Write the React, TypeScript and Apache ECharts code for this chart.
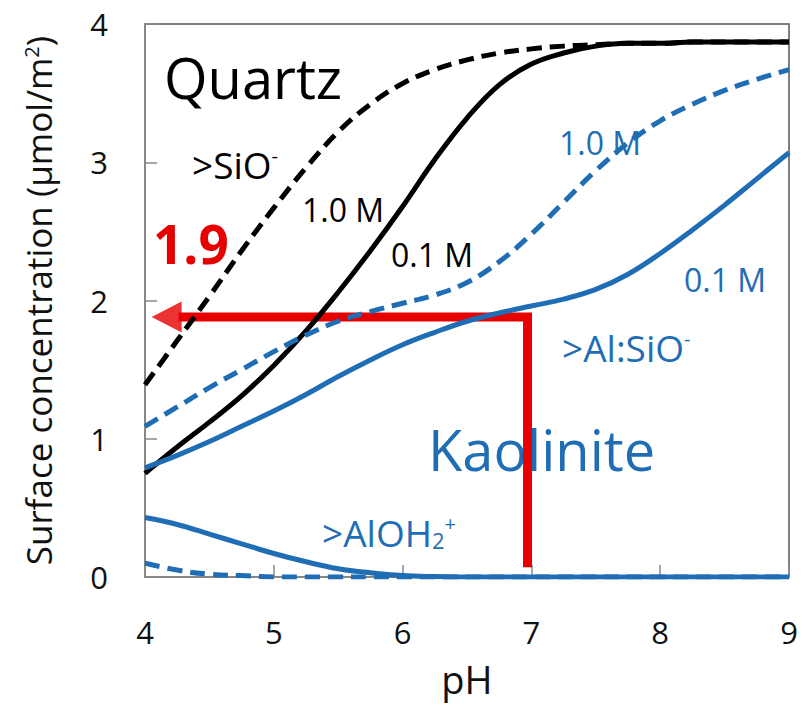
import React, { useEffect, useRef } from "react";
import * as echarts from "echarts";

// pH grid for every curve
const pH = [4, 4.25, 4.5, 4.75, 5, 5.25, 5.5, 5.75, 6, 6.25, 6.5, 6.75, 7, 7.25, 7.5, 7.75, 8, 8.25, 8.5, 8.75, 9];

// Quartz >SiO-
const quartz10M = [1.39, 1.71, 2.03, 2.36, 2.67, 2.96, 3.22, 3.42, 3.57, 3.67, 3.74, 3.79, 3.82, 3.84, 3.85, 3.86, 3.86, 3.87, 3.87, 3.87, 3.87];
const quartz01M = [0.75, 0.94, 1.12, 1.31, 1.53, 1.78, 2.06, 2.36, 2.68, 3.02, 3.32, 3.56, 3.71, 3.79, 3.84, 3.86, 3.86, 3.87, 3.87, 3.87, 3.87];

// Kaolinite >Al:SiO-
const kaolSiO10M = [1.09, 1.23, 1.37, 1.50, 1.63, 1.75, 1.85, 1.92, 1.98, 2.04, 2.13, 2.28, 2.48, 2.71, 2.94, 3.14, 3.30, 3.42, 3.52, 3.60, 3.67];
const kaolSiO01M = [0.79, 0.88, 0.98, 1.09, 1.20, 1.32, 1.45, 1.57, 1.68, 1.77, 1.85, 1.91, 1.96, 2.01, 2.08, 2.19, 2.34, 2.51, 2.69, 2.88, 3.07];

// Kaolinite >AlOH2+
const kaolAlOH01M = [0.43, 0.38, 0.31, 0.24, 0.17, 0.11, 0.06, 0.03, 0.01, 0.003, 0, 0, 0, 0, 0, 0, 0, 0, 0, 0, 0];
const kaolAlOH10M = [0.10, 0.05, 0.02, 0.01, 0, 0, 0, 0, 0, 0, 0, 0, 0, 0, 0, 0, 0, 0, 0, 0, 0];

// red read-off guide: pH 7 -> 1.9
const readPH = [6.97, 6.97, 4.26];
const readConc = [0.07, 1.88, 1.88];
const arrowHead = [4.168, 1.88];

const xTicks = [4, 5, 6, 7, 8, 9];
const yTicks = [0, 1, 2, 3, 4];

const BLUE = "#1f6db5";
const RED = "#e60000";
const FONT = "Open Sans";

const pairs = (ys: number[]) => pH.map((x, i) => [x, ys[i]]);

export default function App() {
  const ref = useRef<HTMLDivElement>(null);
  useEffect(() => {
    if (!ref.current) return;
    const chart = echarts.init(ref.current, undefined, { renderer: "svg" });
    const curve = (name: string, ys: number[], color: string, dashed: boolean) => ({
      name,
      type: "line",
      data: pairs(ys),
      smooth: 0.4,
      showSymbol: false,
      z: 3,
      lineStyle: { color, width: 5, type: dashed ? [15, 8] : "solid", cap: "butt" },
    });
    const label = (text: string, x: number, y: number, size: number, color: string, extra: any = {}) => ({
      type: "text",
      x,
      y,
      z: 1,
      style: { text, fontFamily: FONT, fontSize: size, fill: color, verticalAlign: "middle", ...extra },
    });
    const supRich = (color: string) => ({
      sup: { fontFamily: FONT, fontSize: 20, fill: color, verticalAlign: "top" },
      sub: { fontFamily: FONT, fontSize: 22, fill: color, verticalAlign: "bottom" },
    });
    const option: any = {
      animation: false,
      backgroundColor: "#ffffff",
      textStyle: { fontFamily: FONT },
      grid: {
        left: 145,
        right: 19,
        top: 24,
        bottom: 129,
        show: true,
        borderColor: "#555",
        borderWidth: 1.5,
      },
      xAxis: {
        type: "value",
        min: xTicks[0],
        max: xTicks[xTicks.length - 1],
        interval: 1,
        name: "pH",
        nameLocation: "middle",
        nameGap: 83,
        nameTextStyle: { fontFamily: FONT, fontSize: 38, color: "#111" },
        axisLine: { show: true, lineStyle: { color: "#8a8a8a", width: 1.5 } },
        axisTick: { show: true, inside: true, length: 12, lineStyle: { color: "#8a8a8a", width: 1.5 } },
        axisLabel: { fontFamily: FONT, fontSize: 31, color: "#111", margin: 39 },
        splitLine: { show: false },
      },
      yAxis: {
        type: "value",
        min: yTicks[0],
        max: yTicks[yTicks.length - 1],
        interval: 1,
        name: "Surface concentration (μmol/m{sup|2})",
        nameLocation: "middle",
        nameGap: 89,
        nameTextStyle: {
          fontFamily: FONT,
          fontSize: 35,
          color: "#111",
          rich: { sup: { fontFamily: FONT, fontSize: 20, verticalAlign: "top", color: "#111" } },
        },
        axisLine: { show: true, lineStyle: { color: "#8a8a8a", width: 1.5 } },
        axisTick: { show: true, inside: true, length: 12, lineStyle: { color: "#8a8a8a", width: 1.5 } },
        axisLabel: { fontFamily: FONT, fontSize: 31, color: "#111", margin: 37 },
        splitLine: { show: false },
      },
      series: [
        {
          name: "read-off",
          type: "line",
          data: readPH.map((x, i) => [x, readConc[i]]),
          showSymbol: false,
          z: 2,
          lineStyle: { color: RED, width: 9, cap: "butt", join: "miter" },
        },
        {
          name: "arrow",
          type: "scatter",
          data: [arrowHead],
          symbol: "triangle",
          symbolSize: [31, 30],
          symbolRotate: 90,
          z: 2,
          itemStyle: { color: RED },
        },
        curve("Quartz 1.0 M", quartz10M, "#000000", true),
        curve("Quartz 0.1 M", quartz01M, "#000000", false),
        curve("Kaolinite >Al:SiO- 1.0 M", kaolSiO10M, BLUE, true),
        curve("Kaolinite >Al:SiO- 0.1 M", kaolSiO01M, BLUE, false),
        curve("Kaolinite >AlOH2+ 1.0 M", kaolAlOH10M, BLUE, true),
        curve("Kaolinite >AlOH2+ 0.1 M", kaolAlOH01M, BLUE, false),
      ],
      graphic: {
        elements: [
          label("Quartz", 164, 77, 56, "#000"),
          label(">SiO{sup|-}", 192, 164, 37, "#000", { rich: supRich("#000") }),
          label("1.0 M", 302, 209, 32, "#000"),
          label("0.1 M", 391, 254, 32, "#000"),
          label("1.0 M", 559, 142, 32, BLUE),
          label("0.1 M", 684, 279, 32, BLUE),
          label(">Al:SiO{sup|-}", 562, 347, 37, BLUE, { rich: supRich(BLUE) }),
          label("Kaolinite", 428, 449, 56, BLUE),
          label(">AlOH{sub|2}{sup|+}", 322, 532, 37, BLUE, { rich: supRich(BLUE) }),
          label("1.9", 153, 243, 53, RED, { fontWeight: "bold" }),
        ],
      },
    };
    chart.setOption(option);
    return () => chart.dispose();
  }, []);
  return <div ref={ref} style={{ position: "fixed", left: 0, top: 0, width: 808, height: 706, background: "#fff" }} />;
}
